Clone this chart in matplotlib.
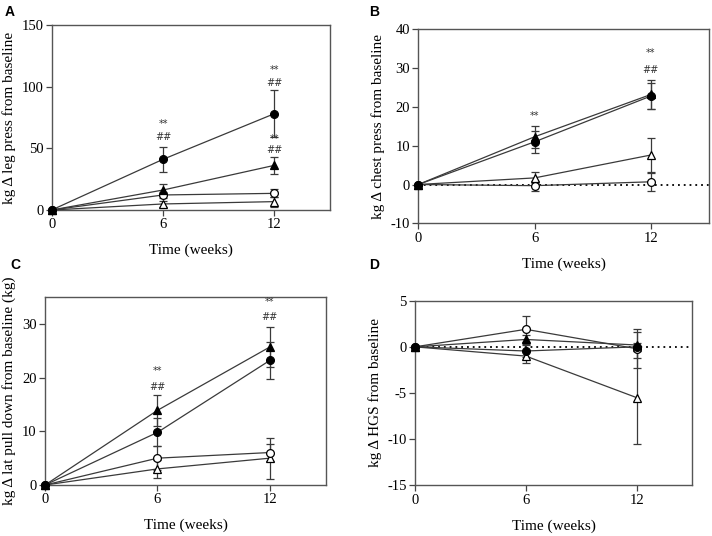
import numpy as np
import matplotlib
matplotlib.use('Agg')
import matplotlib.pyplot as plt

plt.rcParams['font.family'] = 'Liberation Serif'
plt.rcParams['axes.unicode_minus'] = False

# weeks of measurement
weeks = [0, 6, 12]

# leg press (A)
leg_fc = [0, 41.1, 78.1]
leg_fc_err = [0, 9.9, 18.9]
leg_ft = [0, 16.2, 36.2]
leg_ft_err = [0, 5.0, 6.6]
leg_oc = [0, 12.2, 13.5]
leg_oc_err = [0, 2.5, 3.3]
leg_ot = [0, 4.9, 6.8]
leg_ot_err = [0, 2.5, 4.1]

# chest press (B)
chest_fc = [0, 11.0, 22.8]
chest_fc_err = [0, 2.8, 3.4]
chest_ft = [0, 12.3, 23.2]
chest_ft_err = [0, 2.9, 3.7]
chest_oc = [0, -0.3, 0.7]
chest_oc_err = [0, 1.3, 2.3]
chest_ot = [0, 1.7, 7.6]
chest_ot_err = [0, 1.4, 4.4]

# lat pull down (C)
lat_fc = [0, 9.8, 23.2]
lat_fc_err = [0, 2.6, 3.4]
lat_ft = [0, 13.9, 25.7]
lat_ft_err = [0, 2.9, 3.8]
lat_oc = [0, 5.0, 6.05]
lat_oc_err = [0, 2.2, 1.65]
lat_ot = [0, 3.0, 5.0]
lat_ot_err = [0, 1.6, 3.8]

# hand grip strength (D)
hgs_fc = [0, -0.45, 0.0]
hgs_fc_err = [0, 0.6, 0.4]
hgs_ft = [0, 0.8, 0.2]
hgs_ft_err = [0, 0.5, 1.4]
hgs_oc = [0, 1.9, -0.2]
hgs_oc_err = [0, 1.4, 2.1]
hgs_ot = [0, -1.0, -5.5]
hgs_ot_err = [0, 0.7, 5.0]

# significance marks (x, y, text)
leg_marks = [(6, 70, '**'), (6, 59.5, '##'), (12, 113.5, '**'), (12, 103, '##'),
             (12, 57.5, '**'), (12, 48.5, '##')]
chest_marks = [(6, 17.6, '**'), (12, 33.8, '**'), (12, 29.5, '##')]
lat_marks = [(6, 21.2, '**'), (6, 18.2, '##'), (12, 34.1, '**'), (12, 31.3, '##')]
hgs_marks = []

line_col = '#3a3a3a'


def panel(ax, fc, fce, ft, fte, oc, oce, ot, ote, marks, ylim, yticks, ylabel, zero_line):
    if zero_line:
        ax.plot([0, 15], [0, 0], linestyle=(0, (1, 2.2)), color='black', lw=1.3, zorder=1)
    series = [(ot, ote, '^', 'white', 6.0),
              (oc, oce, 'o', 'white', 5.6),
              (ft, fte, '^', 'black', 6.0),
              (fc, fce, 'o', 'black', 5.6)]
    for vals, errs, mk, face, ms in series:
        ax.errorbar(weeks, vals, yerr=errs, color=line_col, lw=0.9, elinewidth=0.9,
                    capsize=3, capthick=0.9, marker=mk, markersize=ms,
                    markerfacecolor=face, markeredgecolor='black', markeredgewidth=0.9,
                    clip_on=False, zorder=3)
    for x, y, t in marks:
        ax.text(x, y, t, ha='center', va='center', fontsize=7, color='#333333',
                family='DejaVu Sans')
    ax.set_xlim(0, 15)
    ax.set_ylim(*ylim)
    ax.set_xticks([0, 6, 12])
    ax.set_yticks(yticks)
    ax.tick_params(labelsize=10.5, length=4, width=0.9, color='#444444', pad=2)
    for s in ax.spines.values():
        s.set_color('#555555')
        s.set_linewidth(1.0)
    ax.set_xlabel('Time (weeks)', fontsize=11, labelpad=9)
    ax.set_ylabel(ylabel, fontsize=11)


fig = plt.figure(figsize=(7.12, 5.36), dpi=100)

axA = fig.add_axes([0.0726, 0.6082, 0.3909, 0.3451])
panel(axA, leg_fc, leg_fc_err, leg_ft, leg_ft_err, leg_oc, leg_oc_err, leg_ot, leg_ot_err,
      leg_marks, (0, 150), [0, 50, 100, 150], 'kg \u0394 leg press from baseline', False)

axB = fig.add_axes([0.5875, 0.5834, 0.4083, 0.3619])
panel(axB, chest_fc, chest_fc_err, chest_ft, chest_ft_err, chest_oc, chest_oc_err,
      chest_ot, chest_ot_err, chest_marks, (-10, 40), [-10, 0, 10, 20, 30, 40],
      'kg \u0394 chest press from baseline', True)

axC = fig.add_axes([0.0632, 0.0951, 0.3947, 0.3507])
panel(axC, lat_fc, lat_fc_err, lat_ft, lat_ft_err, lat_oc, lat_oc_err, lat_ot, lat_ot_err,
      lat_marks, (0, 35), [0, 10, 20, 30], 'kg \u0394 lat pull down from baseline (kg)', False)

axD = fig.add_axes([0.5829, 0.0946, 0.389, 0.3444])
panel(axD, hgs_fc, hgs_fc_err, hgs_ft, hgs_ft_err, hgs_oc, hgs_oc_err, hgs_ot, hgs_ot_err,
      hgs_marks, (-15, 5), [-15, -10, -5, 0, 5], 'kg \u0394 HGS from baseline', True)

# panel letters
for x, y, t in [(10, 12, 'A'), (374, 12, 'B'), (15, 265, 'C'), (374, 265, 'D')]:
    fig.text(x / 712, 1 - y / 536, t, ha='center', va='center', fontsize=10,
             fontweight='bold', family='Liberation Sans')

fig.savefig('out.png', dpi=100)
